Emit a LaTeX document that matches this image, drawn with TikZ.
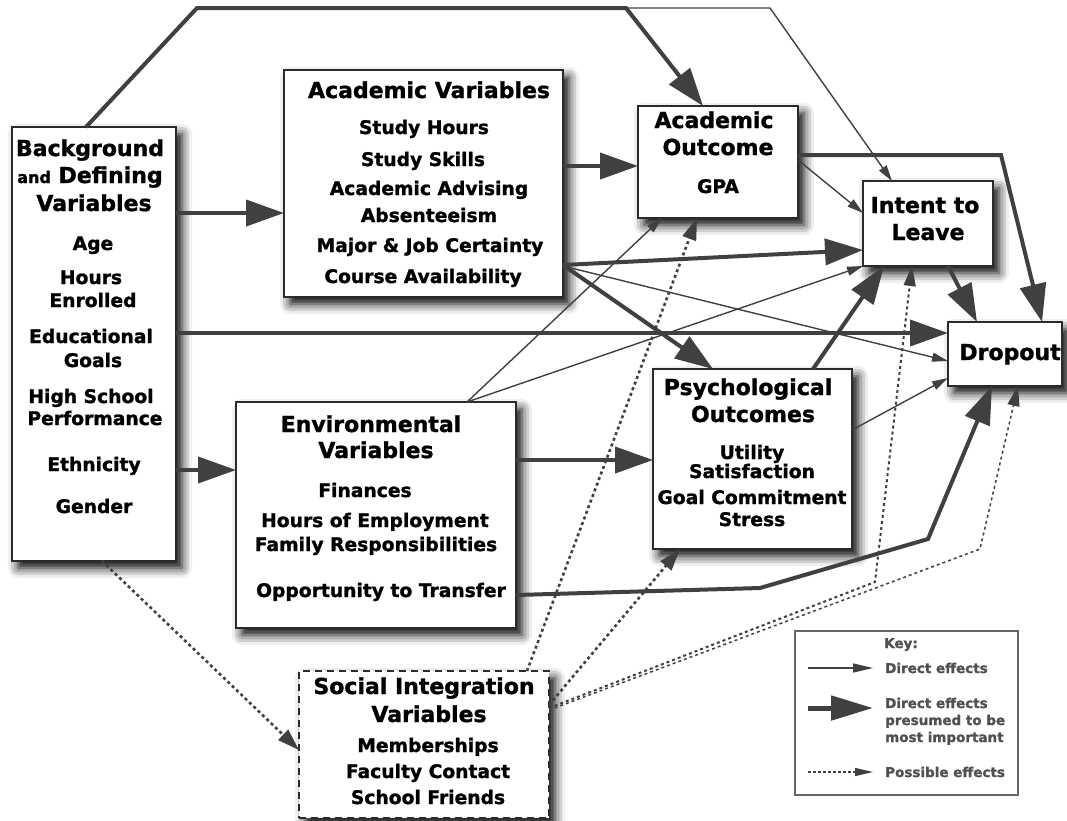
\documentclass[tikz,border=0pt]{standalone}
\usepackage{fontspec}
\setmainfont{DejaVu Sans}[BoldFeatures={FakeBold=1.3}]
\usetikzlibrary{arrows.meta,calc,shadows.blur}
\definecolor{ln}{HTML}{404040}
\definecolor{bd}{HTML}{2B2B2B}
\definecolor{kt}{HTML}{505050}
\begin{document}
\begin{tikzpicture}[x=1pt,y=-1pt,
  box/.style={draw=bd, line width=2.4pt, fill=white, rectangle, inner sep=0pt, outer sep=0pt,
    blur shadow={shadow xshift=6pt, shadow yshift=-7pt, shadow blur radius=10pt, shadow opacity=100}},
  dbox/.style={box, dash pattern=on 7pt off 5pt},
  kbox/.style={draw=ln!80, line width=1.2pt, fill=white, rectangle, inner sep=0pt, outer sep=0pt},
  ttl/.style={font=\fontsize{22}{24}\selectfont\bfseries, anchor=base, inner sep=0pt},
  itm/.style={font=\fontsize{18.7}{20}\selectfont\bfseries, anchor=base, inner sep=0pt},
  kyt/.style={font=\fontsize{13.5}{15}\selectfont\bfseries, text=kt, anchor=base west, inner sep=0pt},
  thk/.style={draw=ln, line width=4pt, line join=miter, -{Triangle[length=38pt,width=26pt]}},
  thn/.style={draw=ln, line width=1.4pt, -{Triangle[length=16pt,width=9pt]}},
  dtd/.style={draw=ln, line width=2.6pt, dash pattern=on 3pt off 3pt, -{Triangle[length=22pt,width=14pt]}}
]
\useasboundingbox (0,0) rectangle (1067,820);

% boxes
\node[box, minimum width=164pt, minimum height=434pt] (bg) at (94,344) {};
\node[box, minimum width=279pt, minimum height=227pt] (av) at (423.5,183.5) {};
\node[box, minimum width=160pt, minimum height=112pt] (ao) at (718,162) {};
\node[box, minimum width=130pt, minimum height=85pt] (il) at (928,223.5) {};
\node[box, minimum width=114pt, minimum height=64pt] (dr) at (1005,354) {};
\node[box, minimum width=199pt, minimum height=180pt] (po) at (752.5,459) {};
\node[box, minimum width=280pt, minimum height=226pt] (ev) at (376,515) {};
\node[dbox, minimum width=250pt, minimum height=147pt] (si) at (424,744.5) {};
\node[kbox, minimum width=223pt, minimum height=164pt] (key) at (906.5,713) {};

% bends
\coordinate (b1) at (197,8);
\coordinate (b2) at (626,8);
\coordinate (b3) at (770,8);
\coordinate (c1) at (760,588);
\coordinate (c2) at (928,539);
\coordinate (c3) at (1001,155);
\coordinate (d1) at (875,582);
\coordinate (d2) at (980,549);

% connectors
\draw[thn] ($(bg.north west)+(74,0)$) -- (b1) -- (b3) -- ($(il.north west)+(29,0)$);
\draw[thk] ($(bg.north west)+(74,0)$) -- (b1) -- (b2) -- ($(ao.north west)+(65,0)$);
\draw[thk] ($(bg.north east)+(0,86)$) -- ($(av.north west)+(0,143)$);
\draw[thk] ($(bg.north east)+(0,206)$) -- ($(dr.north west)+(0,11)$);
\draw[thk] ($(bg.north east)+(0,343)$) -- ($(ev.north west)+(0,68)$);
\draw[dtd] ($(bg.south west)+(90,0)$) -- ($(si.north west)+(0,79)$);
\draw[thk] ($(av.north east)+(0,96)$) -- ($(ao.north west)+(0,60)$);
\draw[thn] ($(av.north east)+(0,196)$) -- ($(dr.north west)+(0,39)$);
\draw[thk] ($(av.north east)+(0,195)$) -- ($(il.north west)+(0,69)$);
\draw[thk] ($(av.north east)+(0,195)$) -- ($(po.north west)+(60,0)$);
\draw[thn] ($(ev.north west)+(231,0)$) -- ($(ao.south west)+(24,0)$);
\draw[thn] ($(ev.north west)+(231,0)$) -- (il.south west);
\draw[thk] ($(ev.north east)+(0,58)$) -- ($(po.north west)+(0,91)$);
\draw[thk] ($(ev.north east)+(0,193)$) -- (c1) -- (c2) -- ($(dr.south west)+(44,0)$);
\draw[thn] ($(ao.north east)+(0,54)$) -- ($(il.north west)+(0,32)$);
\draw[thk] ($(ao.north east)+(0,49)$) -- (c3) -- ($(dr.north west)+(94,0)$);
\draw[thk] ($(il.south west)+(85,0)$) -- ($(dr.north west)+(29,0)$);
\draw[thk] ($(po.north west)+(160,0)$) -- ($(il.south west)+(21,0)$);
\draw[thn] ($(po.north east)+(0,61)$) -- ($(dr.north west)+(0,56)$);
\draw[dtd] ($(si.north west)+(228,0)$) -- ($(ao.south west)+(59,0)$);
\draw[dtd] ($(si.north east)+(0,34)$) -- ($(po.south west)+(27,0)$);
\draw[dtd, line width=2pt, -{Triangle[length=20pt,width=12pt]}] ($(si.north east)+(0,37)$) -- (d1) -- ($(il.south west)+(49,0)$);
\draw[dtd, line width=1.5pt, -{Triangle[length=20pt,width=12pt]}] ($(si.north east)+(0,39)$) -- (d2) -- ($(dr.south west)+(70,0)$);

% titles
\node[ttl] (bgA) at (90,156) {Background};
\node[ttl] (bgB) at (90,183) {{\fontsize{16}{16}\selectfont and} Defining};
\node[ttl] (bgC) at (94,211) {Variables};
\foreach \n/\x/\y/\t in {avA/429/98/Academic Variables, aoA/714/128/Academic, aoB/718/155/Outcome,
  ilA/925/213/Intent to, ilB/928/240/Leave, drA/1010/360/Dropout, poA/748/395/Psychological,
  poB/753/422/Outcomes, evA/371/432/Environmental, evB/376/458/Variables,
  siA/424/694/Social Integration, siB/429/722/Variables}
  \node[ttl] (\n) at (\x,\y) {\t};

% items
\foreach \n/\x/\y/\t in {bg1/93/250/Age, bg2/91/284/Hours, bg3/93/307/Enrolled, bg4/91/343/Educational,
  bg5/93/367/Goals, bg6/91/403/High School, bg7/95/425/Performance, bg8/94/471/Ethnicity, bg9/94/513/Gender,
  av1/424/134/Study Hours, av2/423/166/Study Skills, av3/429/195/Academic Advising, av4/429/222/Absenteeism,
  av5/430/252/Major \& Job Certainty, av6/423/283/Course Availability, ao1/718/193/GPA,
  po1/752/459/Utility, po2/752/478/Satisfaction, po3/752/504/Goal Commitment, po4/752/526/Stress,
  ev1/365/497/Finances, ev2/375/527/Hours of Employment, ev3/376/551/Family Responsibilities,
  ev4/381/597/Opportunity to Transfer, si1/428/752/Memberships, si2/428/778/Faculty Contact,
  si3/428/804/School Friends}
  \node[itm] (\n) at (\x,\y) {\t};

% key
\node[kyt] (k0) at (884,648) {Key:};
\node[kyt] (k1) at (885,673) {Direct effects};
\node[kyt] (k2) at (885,708) {Direct effects};
\node[kyt] (k3) at (885,725) {presumed to be};
\node[kyt] (k4) at (885,742) {most important};
\node[kyt] (k5) at (885,777) {Possible effects};
\coordinate (ka1) at (808,668); \coordinate (kb1) at (873,668);
\coordinate (ka2) at (808,708); \coordinate (kb2) at (873,708);
\coordinate (ka3) at (808,772); \coordinate (kb3) at (873,772);
\draw[draw=ln, line width=1.4pt, -{Triangle[length=20pt,width=9pt]}] (ka1) -- (kb1);
\draw[draw=ln, line width=5pt, -{Triangle[length=42pt,width=24pt]}] (ka2) -- (kb2);
\draw[draw=ln, line width=1.3pt, dash pattern=on 3pt off 2pt, -{Triangle[length=18pt,width=8pt]}] (ka3) -- (kb3);
\end{tikzpicture}
\end{document}
